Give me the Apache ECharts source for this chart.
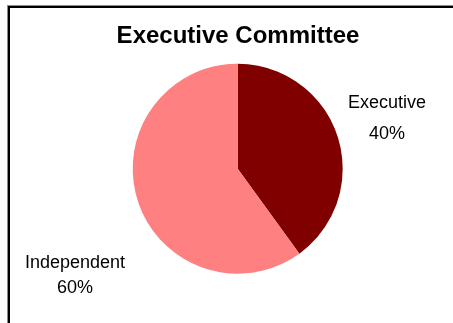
<!DOCTYPE html>
<html>
<head>
<meta charset="utf-8">
<script src="https://cdn.jsdelivr.net/npm/echarts@6/dist/echarts.min.js"></script>
<style>
  html, body { margin: 0; padding: 0; background: #fff; }
  #frame {
    position: absolute; left: 8px; top: 6px;
    width: 480px; height: 340px;
    border-left: 2px solid #000; border-top: 2px solid #000;
    box-shadow: -1px -1px 0 #8a8a8a;
  }
  #chart { position: absolute; left: 0; top: 0; width: 453px; height: 323px; }
</style>
</head>
<body>
<div id="frame"></div>
<div id="chart"></div>
<script>
// Board composition
const titleText = 'Executive Committee';
const categories = ['Executive', 'Independent'];
const shares = [40, 60];
const sliceColors = ['#800000', '#FF8080'];

// Where each category label sits (block centre, px) and its line spacing
const labelSpots = [
  { x: 387, y: 119, lineHeight: 31 },
  { x: 75,  y: 276, lineHeight: 25 }
];

const chart = echarts.init(document.getElementById('chart'), null, { renderer: 'canvas' });

const pieData = categories.map((name, i) => ({
  name: name,
  value: shares[i],
  itemStyle: { color: sliceColors[i] },
  label: { lineHeight: labelSpots[i].lineHeight }
}));

chart.setOption({
  backgroundColor: 'transparent',
  animation: false,
  title: {
    text: titleText,
    left: 233,
    top: 19,
    textAlign: 'center',
    textStyle: {
      fontFamily: 'Liberation Sans, Arial, sans-serif',
      fontSize: 24,
      fontWeight: 'bold',
      color: '#000'
    }
  },
  series: [{
    type: 'pie',
    center: [237.7, 168.7],
    radius: 105,
    startAngle: 90,
    clockwise: true,
    avoidLabelOverlap: false,
    data: pieData,
    itemStyle: { borderWidth: 0 },
    label: {
      show: true,
      position: 'outside',
      formatter: p => p.name + '\n' + Math.round(p.percent) + '%',
      fontFamily: 'Liberation Sans, Arial, sans-serif',
      fontSize: 18,
      color: '#000',
      align: 'center'
    },
    labelLine: { show: false },
    labelLayout: p => ({
      x: labelSpots[p.dataIndex].x,
      y: labelSpots[p.dataIndex].y,
      align: 'center',
      verticalAlign: 'middle'
    }),
    emphasis: { disabled: true }
  }]
});
</script>
</body>
</html>
